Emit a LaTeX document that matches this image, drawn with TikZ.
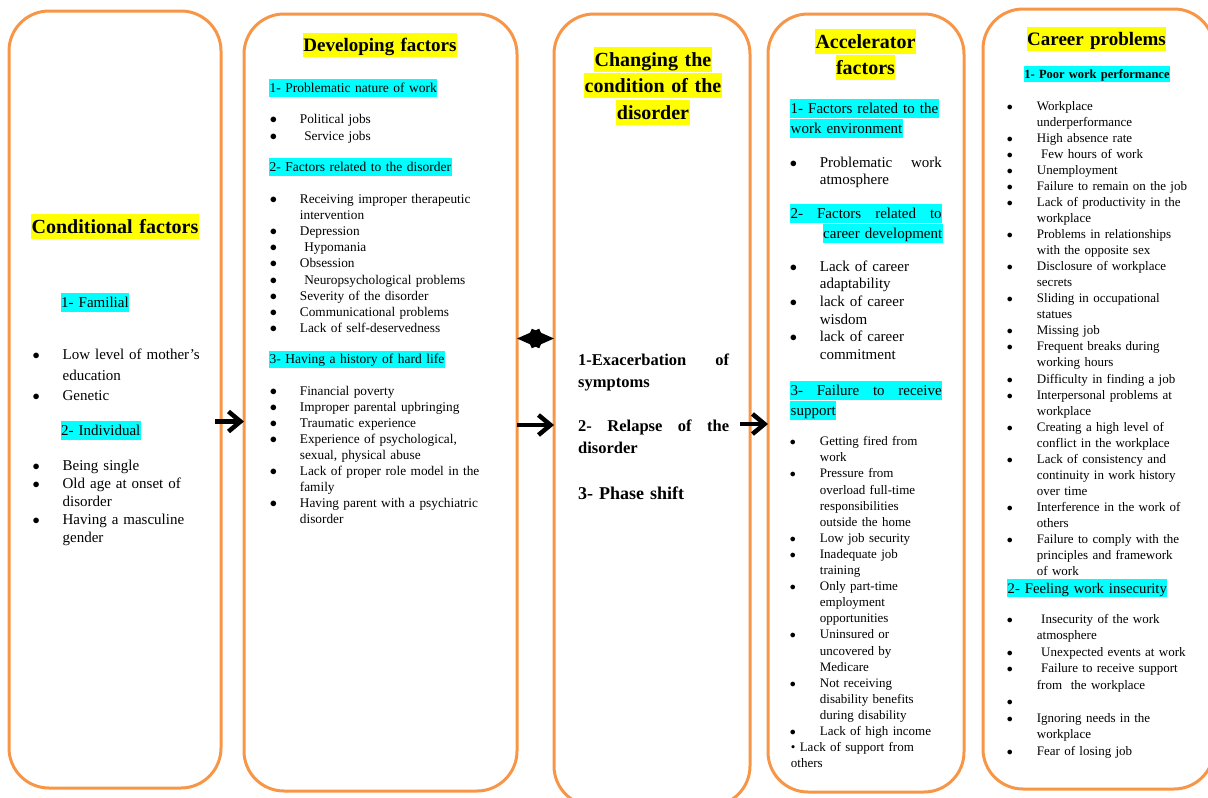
\documentclass[tikz,border=0pt]{standalone}
\usepackage{fontspec}
\setmainfont{Liberation Serif}
\usepackage{tikz}
\usetikzlibrary{arrows.meta}
\definecolor{boxorange}{HTML}{F79646}
\definecolor{hlyellow}{HTML}{FFFF00}
\definecolor{hlcyan}{HTML}{00FFFF}
\def\fs#1#2{\fontsize{#1}{#2}\selectfont}
\def\hly#1{{\setlength{\fboxsep}{0.5pt}\colorbox{hlyellow}{\rule[-.25em]{0pt}{1.2em}#1}}}
\def\hlc#1{{\setlength{\fboxsep}{0.5pt}\colorbox{hlcyan}{\rule[-.25em]{0pt}{1.2em}#1}}}
\newcommand\bul[1]{\hangindent=29pt\hangafter=1\noindent\makebox[29pt][l]{\kern-1pt$\bullet$}#1\par}

\begin{document}
\begin{tikzpicture}[x=1pt, y=-1pt,
	panel/.style={draw=boxorange, line width=3pt, rounded corners=40pt, inner sep=0, outer sep=0},
	title/.style={anchor=base, inner sep=0, text width=200, align=center, font=\fs{20}{26.5}\bfseries},
	sub/.style={anchor=base west, inner sep=0, text width=170},
	list/.style={anchor=base west, inner sep=0},
	arr/.style={line width=4.5pt, -{Straight Barb[length=12pt,width=20pt]}},
	dblarr/.style={line width=5pt, {Straight Barb[length=17pt,width=15pt]}-{Straight Barb[length=17pt,width=15pt]}}]
		\useasboundingbox (0,0) rectangle (1208,798);

		\node[panel, minimum width=212, minimum height=777] (cond) at (115,399.5) {};
		\node[panel, minimum width=273, minimum height=777] (devel) at (380.5,402.5) {};
		\node[panel, minimum width=196, minimum height=792] (chang) at (652,410) {};
		\node[panel, minimum width=196, minimum height=778] (accel) at (866,403) {};
		\node[panel, minimum width=231, minimum height=780] (career) at (1098.5,399) {};

		\node[title] (condT) at (115,233) {\hly{Conditional factors}};
		\node[sub, font=\fs{15}{18}] (condA) at (60.5,307.5) {\hlc{1- Familial}};
		\node[list, text width=180, font=\fs{15}{20.5}] (condL1) at (33.4,359.5) {\bul{Low level of mother's\newline education}\bul{Genetic}};
		\node[sub, font=\fs{15}{18}] (condB) at (60.5,435.3) {\hlc{2- Individual}};
		\node[list, text width=180, font=\fs{15}{18}] (condL2) at (33.4,470.5) {\bul{Being single}\bul{Old age at onset of\newline disorder}\bul{Having a masculine\newline gender}};

		\node[title, font=\fs{19}{25}\bfseries] (develT) at (380,51.7) {\hly{Developing factors}};
		\node[sub, font=\fs{13.5}{16}] (develA) at (269,92.7) {\hlc{1- Problematic nature of work}};
		\node[list, text width=235, font=\fs{13.3}{17.4}] (develL1) at (270.7,123.3) {\bul{Political jobs}\bul{\ Service jobs}};
		\node[sub, font=\fs{13.5}{16}] (develB) at (269,171.7) {\hlc{2- Factors related to the disorder}};
		\node[list, text width=235, font=\fs{13.3}{16.2}] (develL2) at (270.7,203) {\bul{Receiving improper therapeutic\newline intervention}\bul{Depression}\bul{\ Hypomania}\bul{Obsession}\bul{\ Neuropsychological problems}\bul{Severity of the disorder}\bul{Communicational problems}\bul{Lack of self-deservedness}};
		\node[sub, font=\fs{13.5}{16}] (develC) at (269,363.9) {\hlc{3- Having a history of hard life}};
		\node[list, text width=235, font=\fs{13.3}{16}] (develL3) at (270.7,395) {\bul{Financial poverty}\bul{Improper parental upbringing}\bul{Traumatic experience}\bul{Experience of psychological,\newline sexual, physical abuse}\bul{Lack of proper role model in the\newline family}\bul{Having parent with a psychiatric\newline disorder}};

		\node[title, text width=190] (changT) at (653,66.3) {\hly{Changing the}\\\hly{condition of the}\\\hly{disorder}};
		\node[list, text width=165, font=\fs{16.5}{22}\bfseries] (chang1) at (578,365) {\makebox[151pt]{1-Exacerbation\hfill of}\newline symptoms};
		\node[list, text width=165, font=\fs{16.5}{22}\bfseries] (chang2) at (578,431) {\makebox[151pt]{2-\hfill Relapse\hfill of\hfill the}\newline disorder};
		\node[list, text width=165, font=\fs{18}{22}\bfseries] (chang3) at (578,499) {3- Phase shift};

		\node[title, text width=190, font=\fs{20}{26}\bfseries] (accelT) at (865.5,48.7) {\hly{Accelerator}\\\hly{factors}};
		\node[sub, font=\fs{15}{17.5}] (accelA) at (790,113.8) {\hlc{1- Factors related to the}\\\hlc{work environment}};
		\node[list, text width=165, font=\fs{15}{17}] (accelL1) at (790.7,167) {\bul{\makebox[122pt]{Problematic\hfill work}\newline atmosphere}};
		\node[sub, font=\fs{15}{17.5}] (accelB) at (790,218.5) {\hlc{\makebox[151pt]{2-\hfill Factors\hfill related\hfill to}}\\\hspace*{32.5pt}\hlc{career development}};
		\node[list, text width=165, font=\fs{15}{17.7}] (accelL2) at (790.7,271) {\bul{Lack of career\newline adaptability}\bul{lack of career\newline wisdom}\bul{lack of career\newline commitment}};
		\node[sub, font=\fs{15}{17}] (accelC) at (790,395.3) {\hlc{\makebox[151pt]{3-\hfill Failure\hfill to\hfill receive}}\\\hlc{support}};
		\node[list, text width=170, font=\fs{13}{16.1}] (accelL3) at (790.7,445.7) {\bul{Getting fired from\newline work}\bul{Pressure from\newline overload full-time\newline responsibilities\newline outside the home}\bul{Low job security}\bul{Inadequate job\newline training}\bul{Only part-time\newline employment\newline opportunities}\bul{Uninsured or\newline uncovered by\newline Medicare}\bul{Not receiving\newline disability benefits\newline during disability}\bul{Lack of high income}\noindent\textbullet\ Lack of support from\newline others\par};

		\node[title, font=\fs{19}{25}\bfseries] (careerT) at (1096.5,45.6) {\hly{Career problems}};
		\node[title, font=\fs{12.5}{15}\bfseries] (careerA) at (1097,78) {\hlc{1- Poor work performance}};
		\node[list, text width=195, font=\fs{13}{16.06}] (careerL1) at (1007.7,110) {\bul{Workplace\newline underperformance}\bul{High absence rate}\bul{\ Few hours of work}\bul{Unemployment}\bul{Failure to remain on the job}\bul{Lack of productivity in the\newline workplace}\bul{Problems in relationships\newline with the opposite sex}\bul{Disclosure of workplace\newline secrets}\bul{Sliding in occupational\newline statues}\bul{Missing job}\bul{Frequent breaks during\newline working hours}\bul{Difficulty in finding a job}\bul{Interpersonal problems at\newline workplace}\bul{Creating a high level of\newline conflict in the workplace}\bul{Lack of consistency and\newline continuity in work history\newline over time}\bul{Interference in the work of\newline others}\bul{Failure to comply with the\newline principles and framework\newline of work}};
		\node[sub, font=\fs{14.7}{17}] (careerB) at (1007,593) {\hlc{2- Feeling work insecurity}};
		\node[list, text width=195, font=\fs{13}{16.5}] (careerL2) at (1007.7,623) {\bul{\ Insecurity of the work\newline atmosphere}\bul{\ Unexpected events at work}\bul{\ Failure to receive support\newline from\ \ the workplace}\bul{}\bul{Ignoring needs in the\newline workplace}\bul{Fear of losing job}};

		\draw[arr, shorten <=-6pt] (cond.east |- 0,421.5) -- (devel.west |- 0,421.5);
		\draw[dblarr] (devel.east |- 0,338.5) -- (chang.west |- 0,338.5);
		\draw[arr] (devel.east |- 0,425) -- (chang.west |- 0,425);
		\draw[arr, shorten <=-10pt] (chang.east |- 0,424) -- (accel.west |- 0,424);
	\end{tikzpicture}
\end{document}
